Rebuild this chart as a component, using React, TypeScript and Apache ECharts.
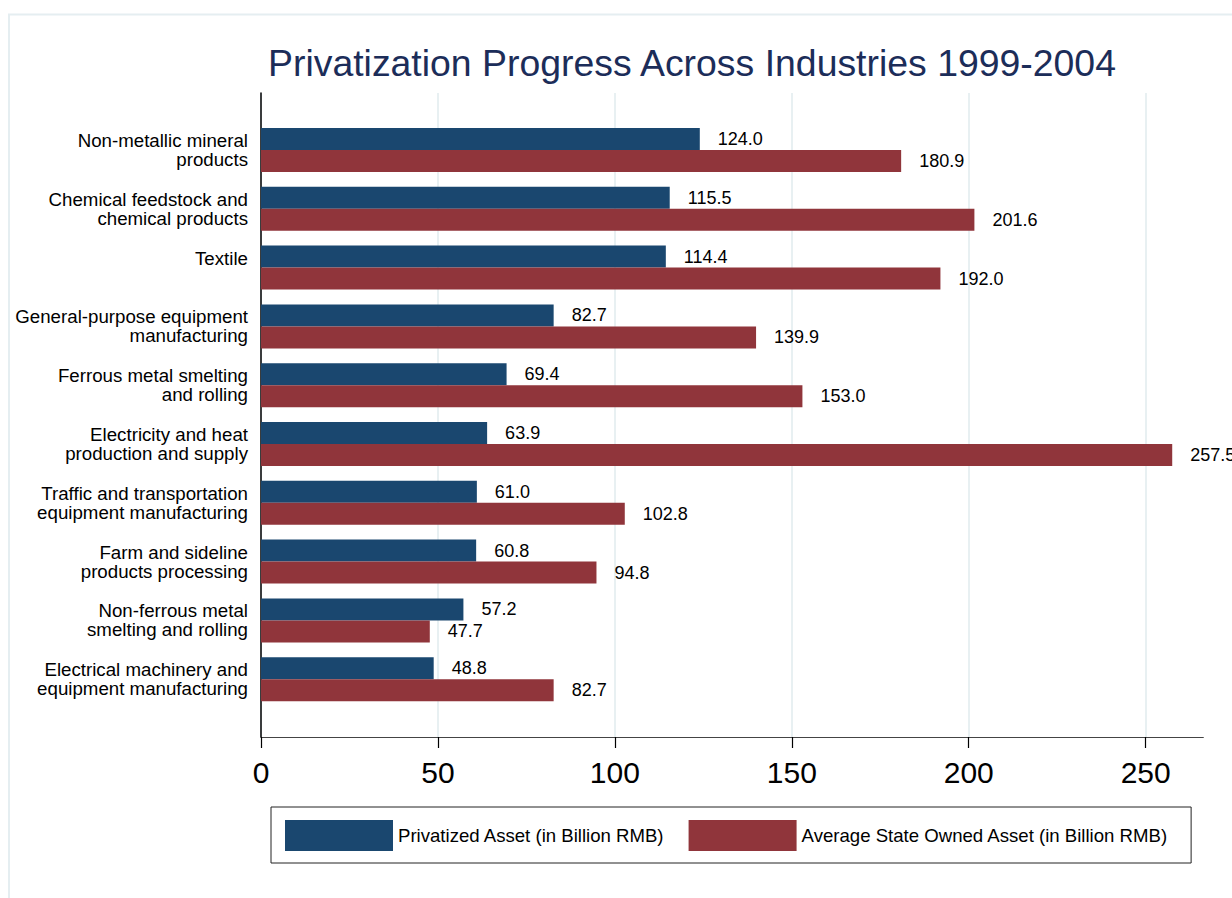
import React, { useEffect, useRef } from "react";
import * as echarts from "echarts";

const categories: string[] = [
  "Non-metallic mineral\nproducts",
  "Chemical feedstock and\nchemical products",
  "Textile",
  "General-purpose equipment\nmanufacturing",
  "Ferrous metal smelting\nand rolling",
  "Electricity and heat\nproduction and supply",
  "Traffic and transportation\nequipment manufacturing",
  "Farm and sideline\nproducts processing",
  "Non-ferrous metal\nsmelting and rolling",
  "Electrical machinery and\nequipment manufacturing",
];

const privatizedAsset: number[] = [124.0, 115.5, 114.4, 82.7, 69.4, 63.9, 61.0, 60.8, 57.2, 48.8];
const stateOwnedAsset: number[] = [180.9, 201.6, 192.0, 139.9, 153.0, 257.5, 102.8, 94.8, 47.7, 82.7];

const xTickMax = 250;
const xTickStep = 50;
const xAxisEnd = 266.3;

const seriesNames = [
  "Privatized Asset (in Billion RMB)",
  "Average State Owned Asset (in Billion RMB)",
];

const FONT = '"Liberation Sans", Arial, sans-serif';

const PX_PER_UNIT = 3.5387;
const PLOT_LEFT = 261;

export default function App() {
  const ref = useRef<HTMLDivElement>(null);

  useEffect(() => {
    document.body.style.margin = "0";
    document.body.style.overflow = "hidden";
    if (!ref.current) return;
    const chart = echarts.init(ref.current, undefined, { renderer: "svg" });

    const labelStyle = {
      show: true,
      position: "right" as const,
      distance: 18,
      color: "#000",
      fontSize: 18,
      fontFamily: FONT,
      formatter: (p: any) => Number(p.value).toFixed(1),
    };

    const barsTop = 120.6;
    const barsHeight = 588;
    const frameTop = 93;
    const frameHeight = 644;

    chart.setOption({
      animation: false,
      backgroundColor: "#ffffff",
      textStyle: { fontFamily: FONT },
      title: {
        text: "Privatization Progress Across Industries 1999-2004",
        left: 268,
        top: 44,
        padding: 0,
        textStyle: {
          fontSize: 37.4,
          fontWeight: "normal",
          color: "#1c2d59",
          fontFamily: FONT,
        },
      },
      graphic: [
        {
          type: "rect",
          silent: true,
          z: -10,
          shape: { x: 9, y: 14.5, width: 1300, height: 1000 },
          style: { fill: "none", stroke: "#e5eef1", lineWidth: 2 },
        },
      ],
      legend: {
        left: 271,
        top: 807,
        orient: "horizontal",
        icon: "rect",
        itemWidth: 108,
        itemHeight: 31,
        itemGap: 24,
        padding: [13, 23, 12, 14],
        borderColor: "#222",
        borderWidth: 1,
        textStyle: { fontSize: 18.6, color: "#000", fontFamily: FONT },
        data: seriesNames,
      },
      grid: [
        { left: PLOT_LEFT, top: barsTop, width: xAxisEnd * PX_PER_UNIT, height: barsHeight, containLabel: false },
        { left: PLOT_LEFT, top: frameTop, width: xTickMax * PX_PER_UNIT, height: frameHeight, containLabel: false },
      ],
      xAxis: [
        {
          gridIndex: 0,
          type: "value",
          min: 0,
          max: xAxisEnd,
          offset: frameTop + frameHeight - (barsTop + barsHeight),
          axisLine: { show: true, onZero: false, lineStyle: { color: "#444", width: 1 } },
          axisTick: { show: false },
          axisLabel: { show: false },
          splitLine: { show: false },
        },
        {
          gridIndex: 1,
          type: "value",
          min: 0,
          max: xTickMax,
          interval: xTickStep,
          axisLine: { show: false, onZero: false },
          axisTick: {
            show: true,
            length: 11,
            lineStyle: { color: "#000", width: 1.2 },
          },
          axisLabel: {
            show: true,
            margin: 20,
            fontSize: 30,
            color: "#000",
            fontFamily: FONT,
          },
          splitLine: {
            show: true,
            lineStyle: { color: "#e8f0f2", width: 2 },
          },
        },
      ],
      yAxis: [
        {
          gridIndex: 0,
          type: "category",
          inverse: true,
          data: categories,
          axisLine: { show: false },
          axisTick: { show: false },
          splitLine: { show: false },
          axisLabel: {
            margin: 13,
            fontSize: 18.7,
            lineHeight: 19,
            color: "#000",
            fontFamily: FONT,
            align: "right",
            formatter: (v: string) => (v.indexOf("\n") >= 0 ? v : v + "\n "),
          },
        },
        {
          gridIndex: 1,
          type: "value",
          min: 0,
          max: 1,
          axisLine: { show: true, onZero: false, lineStyle: { color: "#000", width: 1.5 } },
          axisTick: { show: false },
          axisLabel: { show: false },
          splitLine: { show: false },
        },
      ],
      series: [
        {
          name: seriesNames[0],
          type: "bar",
          xAxisIndex: 0,
          yAxisIndex: 0,
          data: privatizedAsset,
          barWidth: 22,
          barGap: "0%",
          itemStyle: { color: "#1a476f" },
          label: labelStyle,
        },
        {
          name: seriesNames[1],
          type: "bar",
          xAxisIndex: 0,
          yAxisIndex: 0,
          data: stateOwnedAsset,
          barWidth: 22,
          barGap: "0%",
          itemStyle: { color: "#90353b" },
          label: labelStyle,
        },
      ],
    });

    return () => {
      chart.dispose();
    };
  }, []);

  return <div ref={ref} style={{ width: 1232, height: 898 }} />;
}
